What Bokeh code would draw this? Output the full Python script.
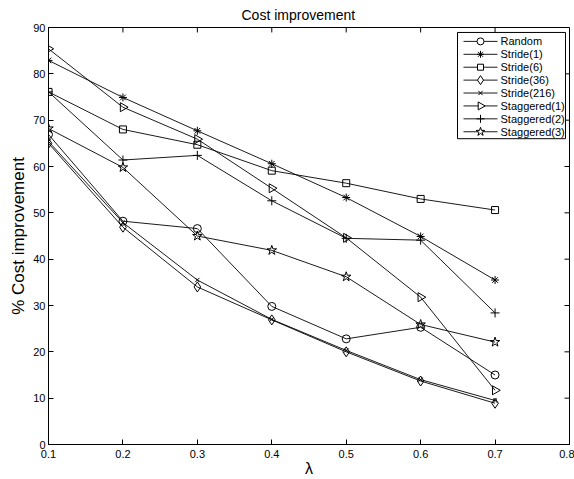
import numpy as np
from bokeh.plotting import figure
from bokeh.models import Range1d, FixedTicker
from bokeh.core.properties import value
from bokeh.embed import file_html
from bokeh.resources import INLINE

# ---- data ----
lam = [0.1, 0.2, 0.3, 0.4, 0.5, 0.6, 0.7]
random_vals = [66.9, 48.2, 46.6, 29.8, 22.8, 25.3, 15.0]
stride1 = [82.9, 74.9, 67.7, 60.6, 53.3, 44.9, 35.5]
stride6 = [76.1, 68.0, 64.7, 59.1, 56.4, 53.0, 50.6]
stride36 = [65.0, 46.9, 34.0, 26.9, 20.0, 13.7, 8.9]
stride216 = [65.4, 47.9, 35.5, 27.0, 20.3, 14.0, 9.5]
staggered1 = [85.4, 72.8, 65.9, 55.3, 44.6, 31.8, 11.7]
staggered2 = [76.1, 61.4, 62.4, 52.6, 44.5, 44.1, 28.4]
staggered3 = [68.2, 59.8, 45.0, 41.9, 36.2, 25.9, 22.1]

series_names = ["Random", "Stride(1)", "Stride(6)", "Stride(36)", "Stride(216)",
                "Staggered(1)", "Staggered(2)", "Staggered(3)"]
series_values = [random_vals, stride1, stride6, stride36, stride216,
                 staggered1, staggered2, staggered3]

x_ticks = [0.1, 0.2, 0.3, 0.4, 0.5, 0.6, 0.7, 0.8]
y_ticks = [0, 10, 20, 30, 40, 50, 60, 70, 80, 90]

# ---- layout / styles ----
FONT = "Liberation Sans"
W, H = 574, 479
BL, BR, BT, BB = 48, 5, 26, 33      # borders around the plot frame
FW, FH = W - BL - BR, H - BT - BB    # frame size in px
TICK = 5                             # inner tick length in px

# legend box, px measured from the frame's bottom-left corner
LEG_L, LEG_W, LEG_TOP, LEG_H = 409, 108, FH - 5, 107
ROW_H, ROW_PAD = 13, 2.5
GL_L, GL_R, GL_M, TXT_L = 415, 449, 432, 452

markers = [
    dict(marker="circle", size=8, angle=0.0),
    dict(marker="asterisk", size=8, angle=0.0),
    dict(marker="square", size=7, angle=0.0),
    dict(marker="diamond", size=10, angle=0.0),
    dict(marker="x", size=6, angle=0.0),
    dict(marker="triangle", size=9, angle=-np.pi / 2),
    dict(marker="cross", size=9, angle=0.0),
    dict(marker="star", size=10, angle=0.0),
]

x0, x1 = x_ticks[0], x_ticks[-1]
y0, y1 = y_ticks[0], y_ticks[-1]


def px_x(px):
    return x0 + px * (x1 - x0) / FW


def px_y(py):
    return y0 + py * (y1 - y0) / FH


p = figure(width=W, height=H, output_backend="svg", toolbar_location=None,
           x_range=Range1d(x0, x1), y_range=Range1d(y0, y1),
           min_border_left=BL, min_border_right=BR, min_border_top=BT,
           min_border_bottom=BB)

p.title.text = "Cost improvement"
p.title.text_font = FONT
p.title.text_font_size = "14px"
p.title.text_font_style = "normal"
p.title.align = "left"
p.title.offset = 193
p.title.standoff = 9
p.title.text_color = "black"

p.grid.visible = False
p.outline_line_color = "black"
p.outline_line_width = 1
p.outline_line_alpha = 1.0
p.background_fill_color = "white"
p.border_fill_color = "white"

for ax in [p.xaxis[0], p.yaxis[0]]:
    ax.major_label_text_font = FONT
    ax.major_label_text_font_size = "11px"
    ax.major_label_text_color = "black"
    ax.axis_label_text_font = FONT
    ax.axis_label_text_font_style = "normal"
    ax.axis_label_text_color = "black"
    ax.axis_line_color = "black"
    ax.major_tick_in = TICK
    ax.major_tick_out = 0
    ax.minor_tick_line_color = None
    ax.major_tick_line_color = "black"

p.xaxis[0].ticker = FixedTicker(ticks=x_ticks)
p.yaxis[0].ticker = FixedTicker(ticks=y_ticks)
p.xaxis[0].axis_label = "λ"
p.xaxis[0].axis_label_text_font_size = "16px"
p.xaxis[0].major_label_standoff = 5
p.xaxis[0].axis_label_standoff = -1
p.yaxis[0].axis_label = "% Cost improvement"
p.yaxis[0].axis_label_text_font_size = "17px"
p.yaxis[0].major_label_standoff = 3
p.yaxis[0].axis_label_standoff = 2

# mirrored inner ticks on top and right sides (from the tick arrays)
dx = px_x(TICK) - x0
dy = px_y(TICK) - y0
p.segment(x0=x_ticks, y0=[y1] * len(x_ticks), x1=x_ticks, y1=[y1 - dy] * len(x_ticks),
          line_color="black", line_width=1)
p.segment(x0=[x1] * len(y_ticks), y0=y_ticks, x1=[x1 - dx] * len(y_ticks), y1=y_ticks,
          line_color="black", line_width=1)

# data series
for name, vals, m in zip(series_names, series_values, markers):
    p.line(lam, vals, line_color="black", line_width=0.9)
    p.scatter(lam, vals, marker=m["marker"], size=m["size"], angle=m["angle"],
              line_color="black", fill_color=None, line_width=1)

# legend (drawn by hand so that the rotated triangle shows correctly)
p.quad(left=[px_x(LEG_L)], right=[px_x(LEG_L + LEG_W)],
       top=[px_y(LEG_TOP)], bottom=[px_y(LEG_TOP - LEG_H)],
       fill_color="white", line_color="black", line_width=1)
row_y = [px_y(LEG_TOP - ROW_PAD - (i + 0.5) * ROW_H) for i in range(len(series_names))]
p.segment(x0=[px_x(GL_L)] * len(row_y), x1=[px_x(GL_R)] * len(row_y),
          y0=row_y, y1=row_y, line_color="black", line_width=0.9)
for i, m in enumerate(markers):
    p.scatter([px_x(GL_M)], [row_y[i]], marker=m["marker"], size=max(m["size"] - 1, 6),
              angle=m["angle"], line_color="black", fill_color="white", line_width=1)
p.text(x=[px_x(TXT_L)] * len(row_y), y=row_y, text=series_names,
       text_font=value(FONT), text_font_size="11px", text_color="black",
       text_baseline="middle", text_align="left")

open("out.html", "w").write(file_html(p, INLINE))
